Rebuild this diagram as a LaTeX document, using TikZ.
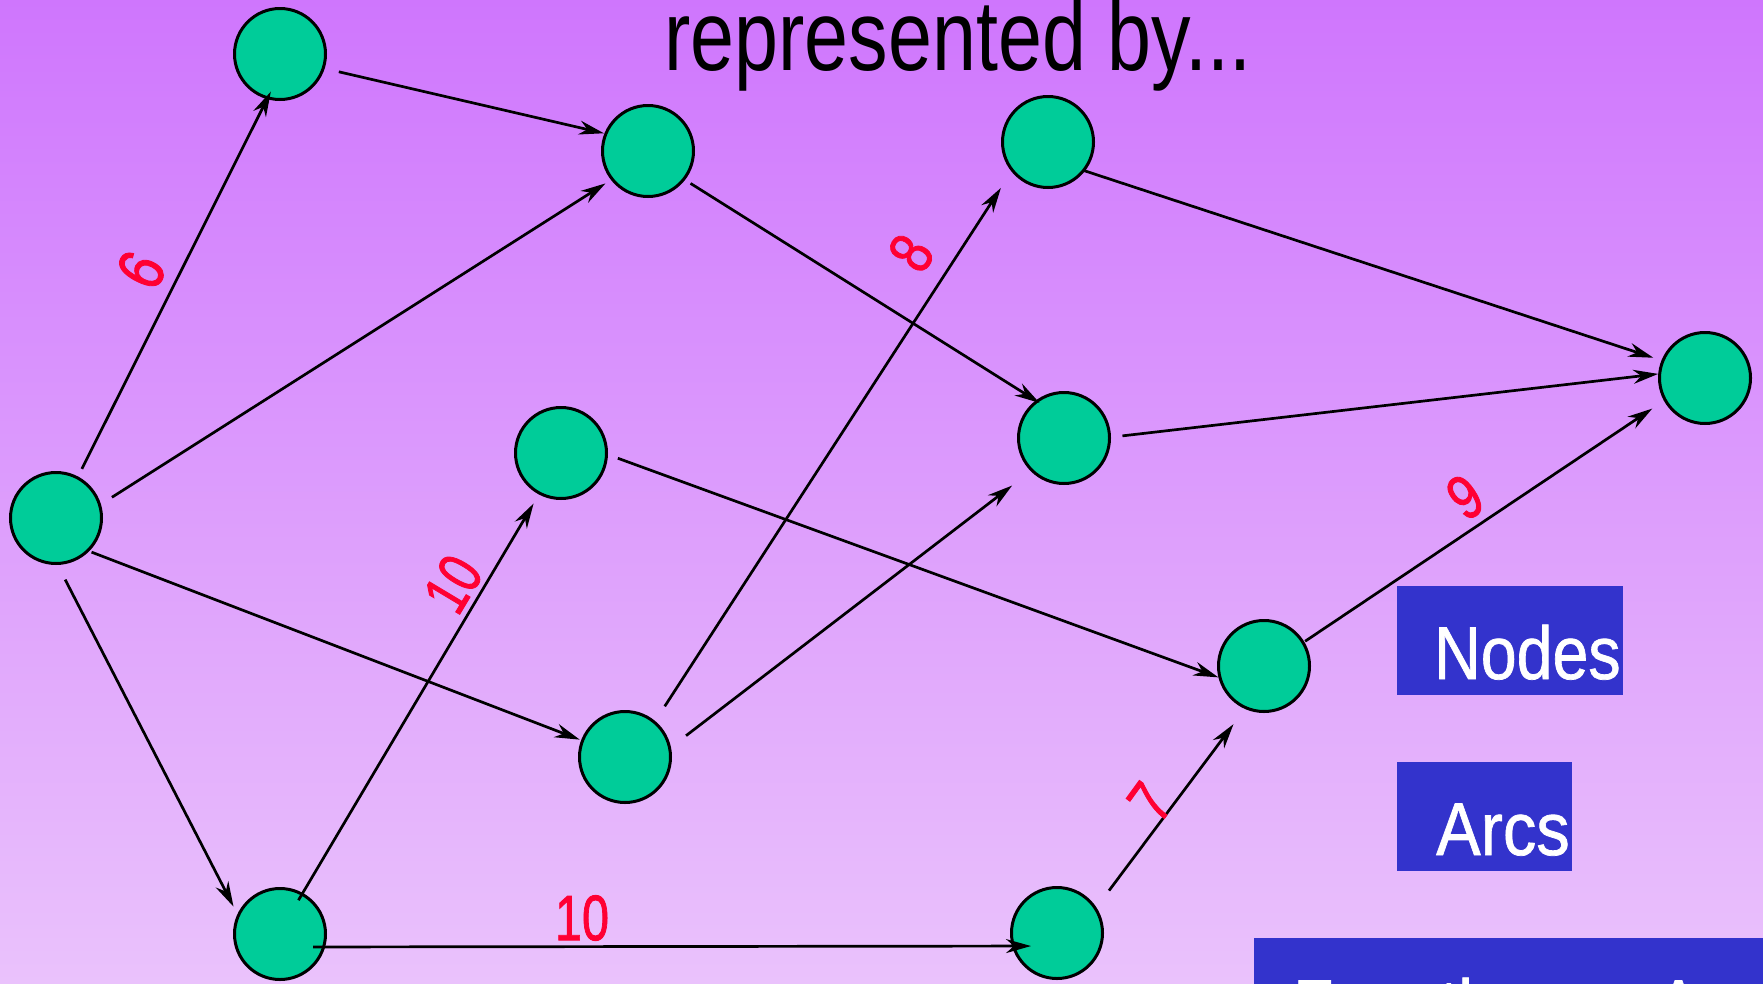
\documentclass[tikz,border=0pt]{standalone}
\usepackage{fontspec}
\setmainfont{Liberation Sans}
\newfontfamily\lblfont[FakeBold=1.5]{Liberation Sans}
\newfontfamily\boxfont[FakeBold=1]{Liberation Sans}
\usetikzlibrary{arrows.meta}
\definecolor{bgtop}{RGB}{207,118,253}
\definecolor{bgbot}{RGB}{234,194,252}
\definecolor{nodegreen}{RGB}{0,204,153}
\definecolor{boxblue}{RGB}{51,51,204}
\definecolor{lblred}{RGB}{255,0,51}
\begin{document}
\begin{tikzpicture}[x=1pt,y=-1pt,
  vtx/.style={circle,draw=black,line width=3pt,fill=nodegreen,minimum size=91pt,inner sep=0pt},
  arcline/.style={line width=2.7pt,-{Stealth[length=25pt,width=14pt,inset=8pt]}},
  wlabel/.style={text=lblred,inner sep=0pt,font=\lblfont\fontsize{62}{62}\selectfont},
  bluebox/.style={fill=boxblue,inner sep=0pt,anchor=north west},
  boxtext/.style={text=white,inner sep=0pt,anchor=base west,font=\boxfont\fontsize{75}{75}\selectfont}]
\useasboundingbox (0,0) rectangle (1763,983);
\clip (0,0) rectangle (1763,983);
\shade[top color=bgtop,bottom color=bgbot] (0,0) rectangle (1763,983);

\node[anchor=base,inner sep=0pt,font=\fontsize{100}{100}\selectfont] (title) at (958,70) {\scalebox{0.79}[1]{represented by...}};

\node[vtx] (A) at (56,518) {};
\node[vtx] (B) at (280,54) {};
\node[vtx] (C) at (648,151) {};
\node[vtx] (D) at (1048,142) {};
\node[vtx] (E) at (561,453) {};
\node[vtx] (F) at (1064,438) {};
\node[vtx] (G) at (1705,378) {};
\node[vtx] (H) at (625,757) {};
\node[vtx] (I) at (1264,666) {};
\node[vtx] (J) at (280,934) {};
\node[vtx] (K) at (1057,933) {};

\draw[arcline,shorten <=8.5pt,shorten >=-8.5pt] (A.62) -- (B.254);
\draw[arcline,shorten <=13pt,shorten >=6.5pt] (A.17) -- (C.218);
\draw[arcline,shorten <=2.5pt,shorten >=1.5pt] (A.315) -- (H.159);
\draw[arcline,shorten <=16.5pt,shorten >=8.5pt] (A.272) -- (J.155);
\draw[arcline,shorten <=14.5pt,shorten >=0.5pt] (B.342) -- (C.158);
\draw[arcline,shorten <=6.5pt,shorten >=-4.5pt] (C.322) -- (F.127);
\draw[arcline,shorten <=-1.5pt,shorten >=8.5pt] (D.322) -- (G.158);
\draw[arcline,shorten <=11.5pt] (F.1) -- (G.175);
\draw[arcline,shorten <=10.5pt] (E.358) -- (I.194);
\draw[arcline,shorten <=17.5pt,shorten >=19.5pt] (H.50) -- (D.219);
\draw[arcline,shorten <=19pt,shorten >=23.5pt] (H.12) -- (F.225);
\draw[arcline,shorten <=-8.5pt,shorten >=10.5pt] (J.61) -- (E.242);
\draw[arcline,shorten <=33pt,shorten >=26pt] ([yshift=-13pt]J.center) -- ([yshift=-13pt]K.center);
\draw[arcline,shorten <=21pt,shorten >=19pt] (K.33) -- (I.246);
\draw[arcline,shorten <=1pt,shorten >=14pt] (I.31) -- (G.209);

\node[wlabel,rotate=63,font=\lblfont\fontsize{66}{66}\selectfont] (l6) at (141,270) {\scalebox{0.8}[1]{6}};
\node[wlabel,rotate=58] (l8) at (911,253) {\scalebox{0.8}[1]{8}};
\node[wlabel,rotate=59] (l10a) at (453,584) {\scalebox{0.76}[1]{10}};
\node[wlabel,rotate=54] (l7) at (1150,802) {\scalebox{0.8}[1]{7}};
\node[wlabel,rotate=34] (l9) at (1465,497) {\scalebox{0.8}[1]{9}};
\node[wlabel,font=\lblfont\fontsize{64}{64}\selectfont] (l10b) at (582,918) {\scalebox{0.76}[1]{10}};

\node[bluebox,minimum width=226pt,minimum height=109pt] (nodesbox) at (1397,586) {};
\node[boxtext] (nodestext) at (1434,679) {\scalebox{0.86}[1]{Nodes}};
\node[bluebox,minimum width=175pt,minimum height=109pt] (arcsbox) at (1397,762) {};
\node[boxtext] (arcstext) at (1436,855) {\scalebox{0.89}[1]{Arcs}};
\node[bluebox,minimum width=560pt,minimum height=120pt] (funcbox) at (1254,938) {};
\node[boxtext] (functext) at (1293,1032) {\scalebox{0.88}[1]{Function on Arcs}};
\end{tikzpicture}
\end{document}
